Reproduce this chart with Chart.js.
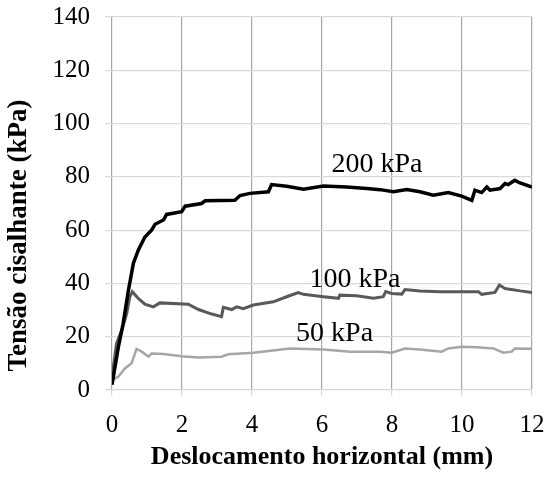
<!DOCTYPE html>
<html>
<head>
<meta charset="utf-8">
<script src="https://cdn.jsdelivr.net/npm/chart.js@4.4.0/dist/chart.umd.min.js"></script>
<style>
  html, body { margin: 0; padding: 0; background: #fff; }
  #wrap { width: 547px; height: 477px; }
</style>
</head>
<body>
<div id="wrap"><canvas id="ensaioChart"></canvas></div>
<script>
// curvas de cisalhamento direto (tensão x deslocamento)
const x200 = [0, 0.18, 0.32, 0.47, 0.61, 0.75, 0.94, 1.13, 1.23, 1.47, 1.56, 1.99, 2.09, 2.56, 2.66, 3.51, 3.66, 3.94, 4.47, 4.56, 4.99, 5.47, 6.04, 6.7, 7.28, 7.66, 8.04, 8.42, 8.8, 9.18, 9.61, 9.99, 10.28, 10.37, 10.56, 10.71, 10.8, 11.09, 11.23, 11.32, 11.51, 11.66, 12];
const tau200 = [2, 16, 25, 37.5, 47.5, 52.5, 57.4, 60, 62.2, 63.8, 65.9, 66.9, 69, 70, 71, 71.2, 73, 73.8, 74.4, 77.1, 76.5, 75.4, 76.6, 76.2, 75.6, 75.2, 74.4, 75.2, 74.4, 73.1, 74.1, 72.8, 71.2, 75, 74.1, 76.2, 75, 75.6, 77.5, 77.1, 78.7, 77.7, 76.2];

const x100 = [0, 0.13, 0.28, 0.42, 0.51, 0.58, 0.75, 0.94, 1.18, 1.37, 2.18, 2.47, 2.85, 3.13, 3.18, 3.42, 3.56, 3.75, 4.04, 4.61, 4.99, 5.32, 5.47, 6.04, 6.47, 6.51, 6.99, 7.47, 7.75, 7.82, 7.99, 8.28, 8.37, 8.8, 9.37, 9.99, 10.47, 10.56, 10.94, 11.07, 11.23, 11.66, 12];
const tau100 = [5, 17.5, 22.5, 28.7, 35, 36.9, 34.4, 32.2, 31.2, 32.7, 32.2, 30.2, 28.5, 27.5, 31, 30.2, 31.2, 30.5, 31.9, 33.1, 35, 36.6, 35.9, 35, 34.4, 35.6, 35.4, 34.4, 35, 36.9, 36.2, 36, 37.7, 37.2, 36.9, 36.9, 36.9, 35.9, 36.6, 39.4, 38.1, 37.2, 36.6];

const x50 = [0, 0.18, 0.37, 0.56, 0.7, 0.85, 1.04, 1.13, 1.47, 1.99, 2.47, 3.13, 3.32, 4.04, 5.09, 6.04, 6.8, 7.66, 7.99, 8.37, 8.8, 9.42, 9.61, 9.99, 10.42, 10.9, 11.18, 11.42, 11.51, 12];
const tau50 = [3.7, 5, 8.1, 10, 15.4, 14.4, 12.5, 13.7, 13.5, 12.7, 12.2, 12.5, 13.4, 14, 15.6, 15.2, 14.4, 14.4, 14, 15.6, 15.2, 14.4, 15.6, 16.2, 16, 15.6, 14, 14.4, 15.6, 15.5];

const xTicks = [0, 2, 4, 6, 8, 10, 12];
const yTicks = [0, 20, 40, 60, 80, 100, 120, 140];

// rótulos das curvas (posição em coordenadas dos dados)
const rotulos = [
  { text: '200 kPa', x: 7.57, y: 84.7 },
  { text: '100 kPa', x: 6.94, y: 41.6 },
  { text: '50 kPa', x: 6.36, y: 21 }
];
const tituloY = 'Tensão cisalhante (kPa)';

function pontos(xs, ys) {
  return xs.map((v, i) => ({ x: v, y: ys[i] }));
}

const rotuloPlugin = {
  id: 'rotulos',
  afterDatasetsDraw(chart) {
    const { ctx, scales } = chart;
    ctx.save();
    ctx.font = '28px "Liberation Serif"';
    ctx.fillStyle = '#000';
    ctx.textAlign = 'center';
    ctx.textBaseline = 'middle';
    rotulos.forEach(r => {
      ctx.fillText(r.text, scales.x.getPixelForValue(r.x), scales.y.getPixelForValue(r.y));
    });
    // título do eixo y, centrado na altura total (como no Excel)
    ctx.font = 'bold 27px "Liberation Serif"';
    ctx.translate(19, chart.height / 2 - 3);
    ctx.rotate(-Math.PI / 2);
    ctx.fillText(tituloY, 0, 0);
    ctx.restore();
  }
};

new Chart(document.getElementById('ensaioChart'), {
  type: 'line',
  data: {
    datasets: [
      {
        label: '200 kPa',
        data: pontos(x200, tau200),
        borderColor: '#000000',
        borderWidth: 3.5,
        pointRadius: 0,
        tension: 0,
      },
      {
        label: '100 kPa',
        data: pontos(x100, tau100),
        borderColor: '#595959',
        borderWidth: 3,
        pointRadius: 0,
        tension: 0,
      },
      {
        label: '50 kPa',
        data: pontos(x50, tau50),
        borderColor: '#a6a6a6',
        borderWidth: 2.5,
        pointRadius: 0,
        tension: 0,
      }
    ]
  },
  options: {
    responsive: true,
    maintainAspectRatio: false,
    animation: false,
    layout: {
      padding: { left: 4, right: 15, top: 17, bottom: 4 }
    },
    plugins: {
      legend: { display: false },
      tooltip: { enabled: false }
    },
    scales: {
      x: {
        type: 'linear',
        min: 0,
        max: 12,
        afterBuildTicks: axis => { axis.ticks = xTicks.map(v => ({ value: v })); },
        afterFit: axis => {
          axis.height = 83;
          axis.paddingLeft = 0;
          axis.paddingRight = 0;
        },
        grid: {
          color: '#a6a6a6',
          tickColor: '#d9d9d9',
          tickLength: 6,
          lineWidth: 1.2,
        },
        border: { display: false },
        ticks: {
          color: '#000',
          padding: 14,
          maxRotation: 0,
          font: { size: 25, family: '"Liberation Serif"' }
        },
        title: {
          display: true,
          text: 'Deslocamento horizontal (mm)',
          color: '#000',
          font: { size: 26, weight: 'bold', family: '"Liberation Serif"' },
          padding: { top: 8, bottom: 0 }
        }
      },
      y: {
        min: 0,
        max: 140,
        afterBuildTicks: axis => { axis.ticks = yTicks.map(v => ({ value: v })); },
        afterFit: axis => {
          axis.width = 108;
          axis.paddingTop = 0;
          axis.paddingBottom = 0;
        },
        grid: {
          color: '#d9d9d9',
          tickColor: '#d9d9d9',
          tickLength: 7,
          lineWidth: 1.2,
        },
        border: { display: false },
        ticks: {
          color: '#000',
          padding: 15,
          font: { size: 25, family: '"Liberation Serif"' }
        },
        title: { display: false }
      }
    }
  },
  plugins: [rotuloPlugin]
});
</script>
</body>
</html>
